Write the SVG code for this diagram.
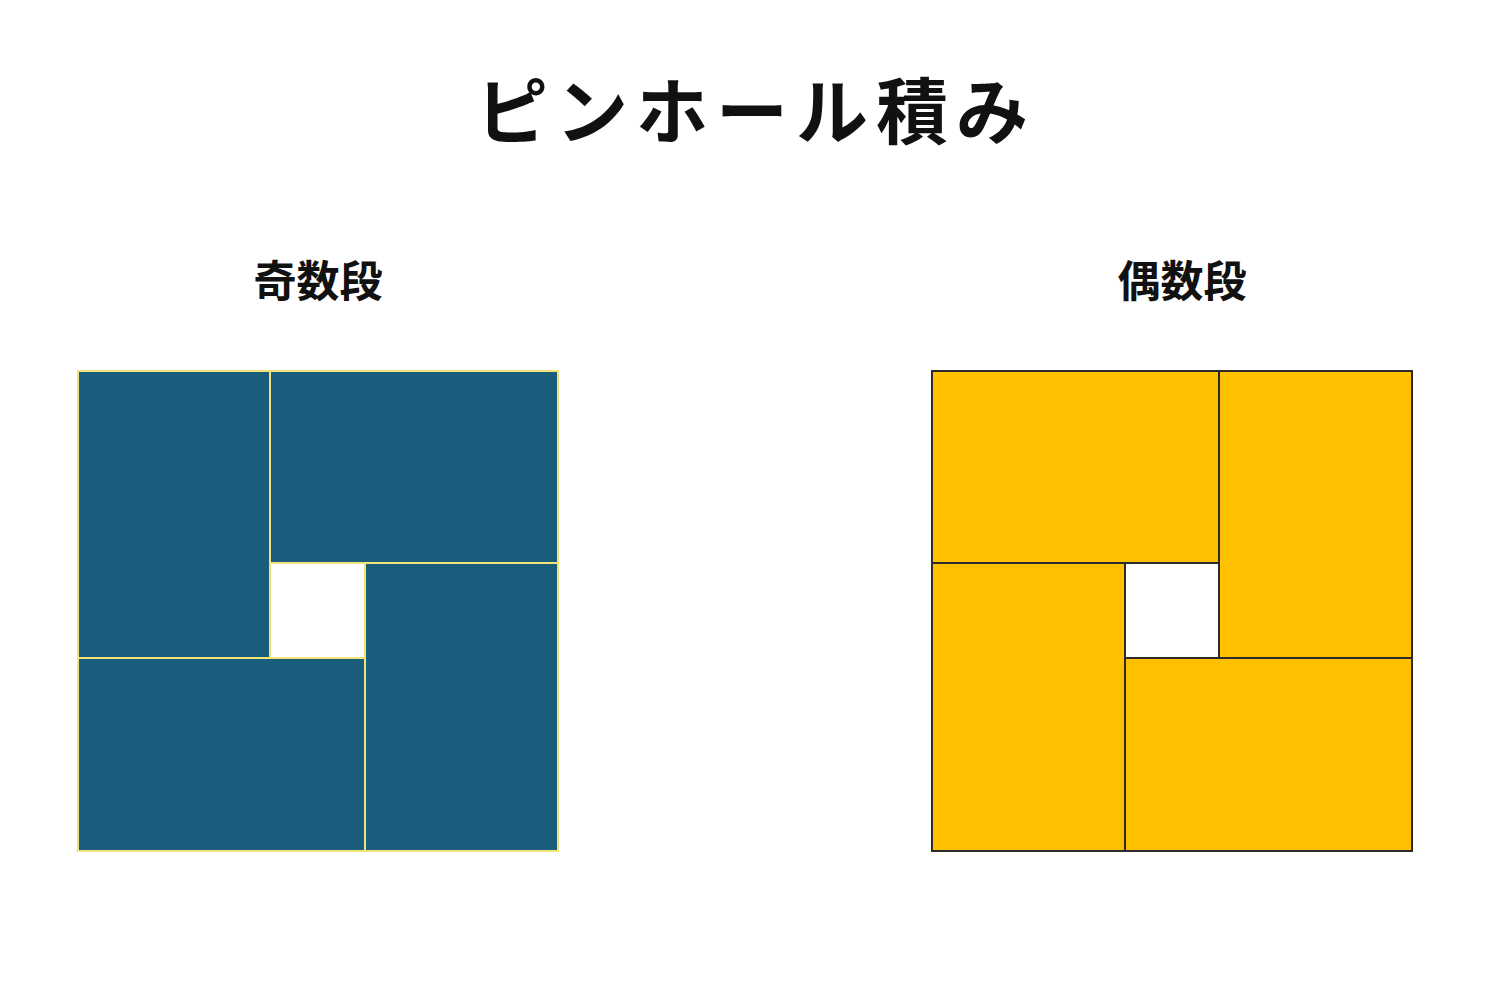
<svg xmlns="http://www.w3.org/2000/svg" width="1500" height="1000" viewBox="0 0 1500 1000">
<style>
.t{font-family:"Noto Sans CJK JP","Noto Sans CJK SC",sans-serif;font-weight:bold;fill:#111;text-anchor:middle}
.b{fill:#1A5E7E;stroke:#F2E27A;stroke-width:2}
.y{fill:#FFC000;stroke:#2B2B2B;stroke-width:2}
</style>
<rect width="1500" height="1000" fill="#fff"/>
<text class="t" x="756" y="138" font-size="72" letter-spacing="8">ピンホール積み</text>
<text class="t" x="318" y="297" font-size="43">奇数段</text>
<text class="t" x="1182" y="297" font-size="43">偶数段</text>
<g id="odd">
<rect class="b" x="78" y="371" width="192" height="287"/>
<rect class="b" x="270" y="371" width="288" height="192"/>
<rect class="b" x="365" y="563" width="193" height="288"/>
<rect class="b" x="78" y="658" width="287" height="193"/>
</g>
<g id="even">
<rect class="y" x="932" y="371" width="287" height="192"/>
<rect class="y" x="1219" y="371" width="193" height="287"/>
<rect class="y" x="1125" y="658" width="287" height="193"/>
<rect class="y" x="932" y="563" width="193" height="288"/>
</g>
</svg>
